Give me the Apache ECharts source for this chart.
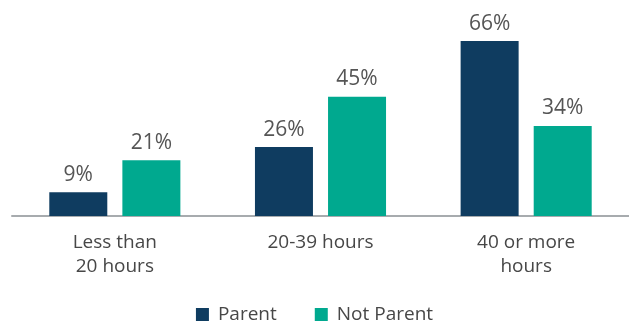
<!DOCTYPE html>
<html>
<head>
<meta charset="utf-8">
<script src="https://cdn.jsdelivr.net/npm/echarts@6/dist/echarts.min.js"></script>
<style>
  html, body { margin: 0; padding: 0; background: #fff; }
  #chart { width: 629px; height: 325px; }
</style>
</head>
<body>
<div id="chart"></div>
<script>
// Weekly working hours by parental status (share of respondents, %)
const categories = ['Less than\n20 hours', '20-39 hours', '40 or more\nhours'];
const parentValues = [9, 26, 66];
const notParentValues = [21, 45, 34];
const seriesNames = ['Parent', 'Not Parent'];

const FONT = '"Open Sans", sans-serif';
const NAVY = '#0f3c60';
const TEAL = '#00a98f';

const chart = echarts.init(document.getElementById('chart'), null, { renderer: 'canvas' });

const labelStyle = {
  show: true,
  position: 'top',
  distance: 7,
  formatter: '{c}%',
  color: '#555555',
  fontFamily: FONT,
  fontSize: 21
};

chart.setOption({
  animation: false,
  grid: { left: 12, right: 0, top: 4, height: 212, containLabel: false },
  legend: {
    bottom: -4,
    left: 'center',
    itemWidth: 13,
    itemHeight: 13,
    itemGap: 38,
    icon: 'rect',
    textStyle: { color: '#474747', fontFamily: FONT, fontSize: 19, padding: [0, 0, 0, 4] },
    data: seriesNames
  },
  xAxis: {
    type: 'category',
    data: categories,
    axisLine: { lineStyle: { color: '#a7abae', width: 2 } },
    axisTick: { show: false },
    axisLabel: {
      color: '#474747',
      fontFamily: FONT,
      fontSize: 19,
      lineHeight: 24,
      margin: 15
    }
  },
  yAxis: {
    type: 'value',
    min: 0,
    max: 80,
    show: false,
    splitLine: { show: false }
  },
  series: [
    {
      name: seriesNames[0],
      type: 'bar',
      data: parentValues,
      barWidth: 58,
      barGap: '26%',
      itemStyle: { color: NAVY },
      label: labelStyle
    },
    {
      name: seriesNames[1],
      type: 'bar',
      data: notParentValues,
      barWidth: 58,
      barGap: '26%',
      itemStyle: { color: TEAL },
      label: labelStyle
    }
  ]
});
</script>
</body>
</html>
